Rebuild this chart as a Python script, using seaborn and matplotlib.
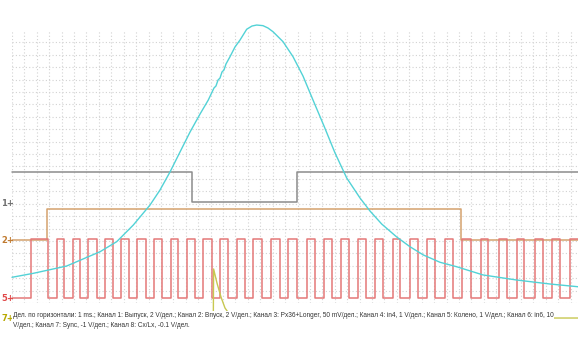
import seaborn as sns
import matplotlib.pyplot as plt
import matplotlib.transforms as mtransforms
from matplotlib.ticker import MultipleLocator

# time axis in ms, vertical axis in screen cells (bottom grid line = 0)
x_end = 9.118

# channel 1 (exhaust) - gray
ch1_t = [0.0, 2.900, 4.591]
ch1_v = [10.55, 8.11, 10.55]

# channel 2 (intake) - orange
ch2_t = [0.0, 0.559, 7.233]
ch2_v = [5.11, 7.55, 5.11]

# channel 5 (crank) - red square wave edges
ch5_high = 5.16
ch5_low = 0.38
ch5_rise = [0.306, 0.725, 0.983, 1.224, 1.498, 1.756, 2.014, 2.288, 2.557, 2.814,
            3.082, 3.351, 3.620, 3.887, 4.172, 4.451, 4.747, 5.026, 5.295, 5.579,
            5.848, 6.133, 6.412, 6.690, 6.975, 7.257, 7.550, 7.845, 8.130, 8.425,
            8.694, 8.989]
ch5_fall = [0.580, 0.838, 1.095, 1.369, 1.627, 1.877, 2.159, 2.412, 2.679, 2.948,
            3.217, 3.485, 3.754, 4.023, 4.317, 4.586, 4.881, 5.160, 5.429, 5.698,
            5.981, 6.250, 6.545, 6.814, 7.109, 7.389, 7.673, 7.969, 8.248, 8.549,
            8.828]

# channel 3 (Px36+Longer) - cyan pressure curve
ch3_t = [0.000, 0.343, 0.881, 1.418, 1.687, 1.954, 2.223, 2.384, 2.545, 2.706,
         2.868, 3.029, 3.162, 3.254, 3.286, 3.319, 3.351, 3.383, 3.415, 3.447,
         3.512, 3.592, 3.673, 3.781, 3.866, 3.942, 4.043, 4.124, 4.205, 4.366,
         4.527, 4.688, 4.849, 5.026, 5.204, 5.392, 5.606, 5.767, 5.956, 6.197,
         6.412, 6.626, 6.895, 7.164, 7.588, 8.131, 8.667, 9.118]
ch3_v = [2.07, 2.39, 2.98, 4.13, 4.94, 6.28, 7.89, 9.10, 10.55, 12.16,
         13.77, 15.22, 16.35, 17.32, 17.48, 17.96, 18.12, 18.61, 18.77, 19.25,
         19.84, 20.62, 21.18, 22.05, 22.31, 22.39, 22.34, 22.15, 21.85, 21.05,
         19.84, 18.28, 16.35, 14.26, 12.08, 10.07, 8.46, 7.41, 6.36, 5.32,
         4.53, 3.87, 3.28, 2.92, 2.26, 1.85, 1.53, 1.31]

# channel 7 (sync) - yellow
ch7_t = [0.0, 3.243, 3.248, 3.302, 3.367, 3.431, 3.512, 3.609, 9.118]
ch7_v = [-1.21, -1.21, 2.74, 1.61, 0.48, -0.40, -0.97, -1.21, -1.21]

# zero markers
mark_labels = ["1+", "2+", "5+", "7+"]
mark_levels = [8.05, 5.07, 0.40, -1.21]
mark_colors = ["#707070", "#c07a30", "#e04848", "#b8a800"]

caption = ("Дел. по горизонтали: 1 ms.; Канал 1: Выпуск, 2 V/дел.; Канал 2: Впуск, 2 V/дел.; "
           "Канал 3: Px36+Longer, 50 mV/дел.; Канал 4: in4, 1 V/дел.; Канал 5: Колено, 1 V/дел.; "
           "Канал 6: in6, 10\nV/дел.; Канал 7: Sync, -1 V/дел.; Канал 8: Cx/Lx, -0.1 V/дел.")


def steps(times, levels):
    # turn edge times into a step path up to the right edge
    return list(times) + [x_end], list(levels) + [levels[-1]]


sns.set_style("white")
fig = plt.figure(figsize=(5.78, 3.5), dpi=100)
ax = fig.add_axes([12 / 578, 47 / 350, 566 / 578, 273 / 350])

# red square wave
t5 = [0.0]
v5 = [ch5_low]
for i, r in enumerate(ch5_rise):
    t5.append(r)
    v5.append(ch5_high)
    if i < len(ch5_fall):
        t5.append(ch5_fall[i])
        v5.append(ch5_low)

for (tt, vv), col in [(steps(ch1_t, ch1_v), "#8c8c8c"),
                      (steps(ch2_t, ch2_v), "#d4a26e"),
                      (steps(t5, v5), "#e47878")]:
    sns.lineplot(x=tt, y=vv, ax=ax, color=col, lw=1.1, sort=False,
                 estimator=None, drawstyle="steps-post", clip_on=False)

sns.lineplot(x=ch3_t, y=ch3_v, ax=ax, color="#52d2d6", lw=1.0, sort=False,
             estimator=None, clip_on=False)
sns.lineplot(x=ch7_t, y=ch7_v, ax=ax, color="#c8c850", lw=1.0, sort=False,
             estimator=None, clip_on=False)

ax.set_xlim(0, x_end)
ax.set_ylim(0, 21.99)
ax.xaxis.set_major_locator(MultipleLocator(0.2))
ax.yaxis.set_major_locator(MultipleLocator(1))
ax.grid(True, color="#d2d2d2", lw=0.8, linestyle=(0, (1, 2)))
ax.tick_params(length=0, labelbottom=False, labelleft=False)
for s in ax.spines.values():
    s.set_visible(False)
ax.set_xlabel("")
ax.set_ylabel("")

trans = mtransforms.blended_transform_factory(fig.transFigure, ax.transData)
for lab, lev, col in zip(mark_labels, mark_levels, mark_colors):
    fig.text(1 / 578, lev, lab, transform=trans, color=col, fontsize=6,
             fontweight="bold", va="center", ha="left")

fig.text(13 / 578, 1 - 312 / 350, caption, color="#333333", fontsize=4.7,
         family=["Liberation Sans", "DejaVu Sans"],
         va="top", ha="left", linespacing=1.55,
         bbox=dict(facecolor="white", edgecolor="none", pad=0.5))

fig.savefig("out.png", dpi=100)
